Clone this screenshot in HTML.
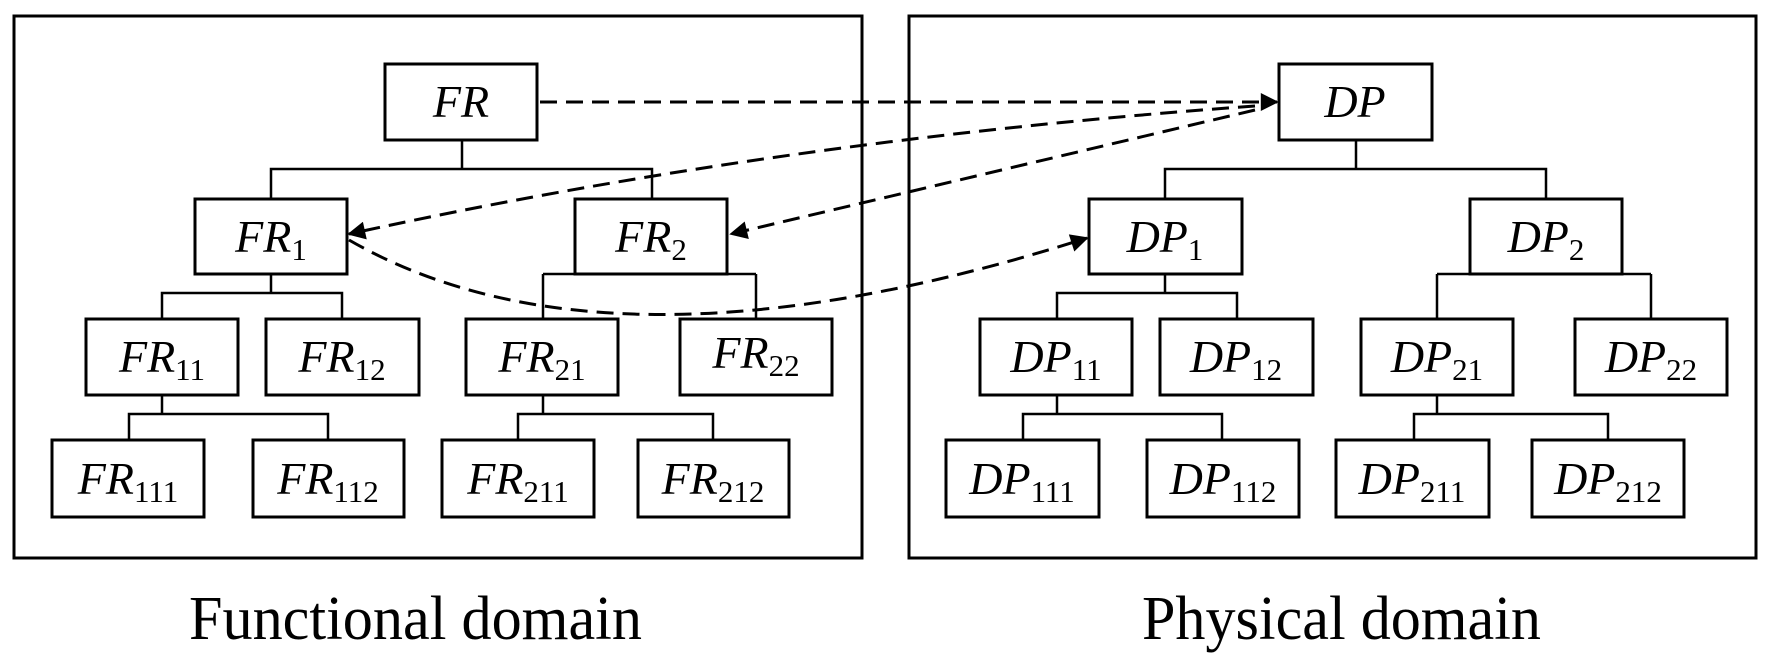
<!DOCTYPE html>
<html><head><meta charset="utf-8"><style>
html,body{margin:0;padding:0;background:#fff;}
svg{display:block;}
text{font-family:"Liberation Serif",serif;fill:#000;}
.l{font-style:italic;font-size:46px;}
.s{font-style:normal;font-size:31px;}
</style></head><body>
<svg width="1770" height="672" viewBox="0 0 1770 672" xmlns="http://www.w3.org/2000/svg">
<defs>
<marker id="ah" viewBox="0 0 10 10" refX="9" refY="5" markerWidth="24" markerHeight="18" markerUnits="userSpaceOnUse" orient="auto">
<path d="M0,0 L10,5 L0,10 z" fill="#000"/>
</marker>
</defs>
<g fill="none" stroke="#000" stroke-width="3">
<rect x="14" y="16" width="848" height="542"/>
<rect x="909" y="16" width="847" height="542"/>
</g>
<g fill="#fff" stroke="#000" stroke-width="3">
<rect x="385" y="64" width="152" height="76"/>
<rect x="195" y="199" width="152" height="75"/>
<rect x="575" y="199" width="152" height="75"/>
<rect x="86" y="319" width="152" height="76"/>
<rect x="266" y="319" width="153" height="76"/>
<rect x="466" y="319" width="152" height="76"/>
<rect x="680" y="319" width="152" height="76"/>
<rect x="52" y="440" width="152" height="77"/>
<rect x="253" y="440" width="151" height="77"/>
<rect x="442" y="440" width="152" height="77"/>
<rect x="638" y="440" width="151" height="77"/>
<rect x="1279" y="64" width="153" height="76"/>
<rect x="1089" y="199" width="153" height="75"/>
<rect x="1470" y="199" width="152" height="75"/>
<rect x="980" y="319" width="152" height="76"/>
<rect x="1160" y="319" width="153" height="76"/>
<rect x="1361" y="319" width="152" height="76"/>
<rect x="1575" y="319" width="152" height="76"/>
<rect x="946" y="440" width="153" height="77"/>
<rect x="1147" y="440" width="152" height="77"/>
<rect x="1336" y="440" width="153" height="77"/>
<rect x="1532" y="440" width="152" height="77"/>
</g>
<g fill="none" stroke="#000" stroke-width="2.5">
<path d="M462,140 V169 M271,199 V169 H652 V199"/>
<path d="M271,274 V293 M162,319 V293 H342 V319"/>
<path d="M543,274 H756 M543,274 V319 M756,274 V319"/>
<path d="M162,395 V414 M129,440 V414 H328 V440"/>
<path d="M543,395 V414 M518,440 V414 H713 V440"/>
<path d="M1356,140 V169 M1165,199 V169 H1546 V199"/>
<path d="M1165,274 V293 M1057,319 V293 H1237 V319"/>
<path d="M1437,274 H1651 M1437,274 V319 M1651,274 V319"/>
<path d="M1057,395 V414 M1023,440 V414 H1222 V440"/>
<path d="M1437,395 V414 M1414,440 V414 H1608 V440"/>
</g>
<g fill="none" stroke="#000" stroke-width="3" stroke-dasharray="17,9">
<path d="M540,102 H1277" marker-end="url(#ah)"/>
<path d="M1255,106 Q780,140 349,234" marker-end="url(#ah)"/>
<path d="M1255,110 L731,234" marker-end="url(#ah)"/>
<path d="M349,240 Q610,390 1087,238" marker-end="url(#ah)"/>
</g>
<g class="l" text-anchor="middle">
<text x="461" y="117">FR</text>
<text x="271" y="252">FR<tspan class="s" dy="8">1</tspan></text>
<text x="651" y="252">FR<tspan class="s" dy="8">2</tspan></text>
<text x="162" y="372">FR<tspan class="s" dy="8">11</tspan></text>
<text x="342" y="372">FR<tspan class="s" dy="8">12</tspan></text>
<text x="542" y="372">FR<tspan class="s" dy="8">21</tspan></text>
<text x="756" y="368">FR<tspan class="s" dy="8">22</tspan></text>
<text x="128" y="494">FR<tspan class="s" dy="8">111</tspan></text>
<text x="328" y="494">FR<tspan class="s" dy="8">112</tspan></text>
<text x="518" y="494">FR<tspan class="s" dy="8">211</tspan></text>
<text x="713" y="494">FR<tspan class="s" dy="8">212</tspan></text>
<text x="1355" y="117">DP</text>
<text x="1165" y="252">DP<tspan class="s" dy="8">1</tspan></text>
<text x="1546" y="252">DP<tspan class="s" dy="8">2</tspan></text>
<text x="1056" y="372">DP<tspan class="s" dy="8">11</tspan></text>
<text x="1236" y="372">DP<tspan class="s" dy="8">12</tspan></text>
<text x="1437" y="372">DP<tspan class="s" dy="8">21</tspan></text>
<text x="1651" y="372">DP<tspan class="s" dy="8">22</tspan></text>
<text x="1022" y="494">DP<tspan class="s" dy="8">111</tspan></text>
<text x="1223" y="494">DP<tspan class="s" dy="8">112</tspan></text>
<text x="1412" y="494">DP<tspan class="s" dy="8">211</tspan></text>
<text x="1608" y="494">DP<tspan class="s" dy="8">212</tspan></text>
</g>
<g style="font-size:62px">
<text x="189" y="639" textLength="453" lengthAdjust="spacingAndGlyphs">Functional domain</text>
<text x="1142" y="639" textLength="399" lengthAdjust="spacingAndGlyphs">Physical domain</text>
</g>
</svg>
</body></html>
